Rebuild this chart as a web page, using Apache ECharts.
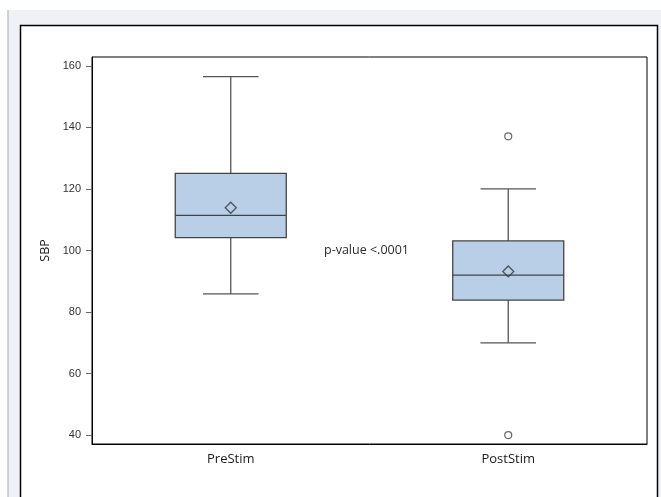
<!DOCTYPE html>
<html>
<head>
<meta charset="utf-8">
<script src="https://cdn.jsdelivr.net/npm/echarts@6/dist/echarts.min.js"></script>
<style>
html,body{margin:0;padding:0;background:#fff;}
#c{width:661px;height:497px;}
</style>
</head>
<body>
<div id="c"></div>
<script>
const categories = ['PreStim', 'PostStim'];
// [min whisker, Q1, median, Q3, max whisker]
const boxStats = [
  [85.9, 104.2, 111.4, 125.1, 156.5],
  [70.0, 83.9, 92.0, 103.1, 120.0]
];
const means = [113.9, 93.2];
const outliers = [[1, 137.1], [1, 40.0]];
const yTicks = [40, 60, 80, 100, 120, 140, 160];
const annotation = 'p-value <.0001';

const chart = echarts.init(document.getElementById('c'));

const boxData = boxStats.map((s, i) => [i].concat(s));

chart.setOption({
  animation: false,
  backgroundColor: '#ffffff',
  graphic: [
    { type: 'rect', z: -10, shape: { x: 8, y: 10, width: 660, height: 500 },
      style: { fill: '#f0f1f6' } },
    { type: 'line', z: -10, shape: { x1: 8, y1: 10, x2: 8, y2: 497 },
      style: { stroke: '#aaaaaa', lineWidth: 1 } },
    { type: 'rect', z: -9, shape: { x: 20.5, y: 25.5, width: 637, height: 480 },
      style: { fill: '#ffffff', stroke: '#000000', lineWidth: 1.5 } },
    { type: 'text', z: 10, left: 324, top: 244,
      style: { text: annotation, font: '12.5px "Open Sans", sans-serif', fill: '#2a2a2a' } }
  ],
  grid: { left: 92, right: 14, top: 57, bottom: 53, show: true, borderColor: '#000', borderWidth: 1, backgroundColor: 'transparent' },
  xAxis: {
    type: 'category',
    data: categories,
    boundaryGap: true,
    axisLine: { lineStyle: { color: '#000', width: 1 } },
    axisTick: { alignWithLabel: true, length: 6, lineStyle: { color: '#666' } },
    axisLabel: { margin: 9, color: '#1a1a1a', fontSize: 13, fontFamily: '"Open Sans", sans-serif' },
    splitLine: { show: false }
  },
  yAxis: {
    type: 'value',
    min: 37.1,
    max: 162.9,
    name: 'SBP',
    nameLocation: 'middle',
    nameGap: 37,
    nameTextStyle: { color: '#1a1a1a', fontSize: 12.5, fontFamily: '"Open Sans", sans-serif' },
    axisLine: { show: true, lineStyle: { color: '#000' } },
    axisTick: { show: true, customValues: yTicks, length: 6, lineStyle: { color: '#666' } },
    axisLabel: { customValues: yTicks, margin: 11, color: '#333', fontSize: 11, fontFamily: '"Liberation Sans", Arial, sans-serif' },
    splitLine: { show: false }
  },
  series: [
    {
      type: 'custom',
      data: boxData,
      encode: { x: 0, y: [1, 2, 3, 4, 5] },
      renderItem: function (params, api) {
        const x = api.value(0);
        const pMin = api.coord([x, api.value(1)]);
        const pQ1 = api.coord([x, api.value(2)]);
        const pMed = api.coord([x, api.value(3)]);
        const pQ3 = api.coord([x, api.value(4)]);
        const pMax = api.coord([x, api.value(5)]);
        const bw = api.size([1, 0])[0];
        const hw = bw * 0.2;
        const cw = hw / 2;
        const cx = pMed[0];
        const line = { stroke: '#555555', lineWidth: 1.3 };
        return {
          type: 'group',
          children: [
            { type: 'line', shape: { x1: cx, y1: pQ3[1], x2: cx, y2: pMax[1] }, style: line },
            { type: 'line', shape: { x1: cx, y1: pQ1[1], x2: cx, y2: pMin[1] }, style: line },
            { type: 'line', shape: { x1: cx - cw, y1: pMax[1], x2: cx + cw, y2: pMax[1] }, style: line },
            { type: 'line', shape: { x1: cx - cw, y1: pMin[1], x2: cx + cw, y2: pMin[1] }, style: line },
            { type: 'rect', shape: { x: cx - hw, y: pQ3[1], width: hw * 2, height: pQ1[1] - pQ3[1] },
              style: { fill: '#b9cfe8', stroke: '#444444', lineWidth: 1.3 } },
            { type: 'line', shape: { x1: cx - hw, y1: pMed[1], x2: cx + hw, y2: pMed[1] }, style: { stroke: '#444444', lineWidth: 1.3 } }
          ]
        };
      }
    },
    {
      type: 'scatter',
      data: means.map((m, i) => [i, m]),
      symbol: 'diamond',
      symbolSize: [11, 11],
      itemStyle: { color: 'rgba(0,0,0,0)', borderColor: '#333333', borderWidth: 1.3 },
      z: 5
    },
    {
      type: 'scatter',
      data: outliers,
      symbol: 'circle',
      symbolSize: 7,
      itemStyle: { color: '#ffffff', borderColor: '#444444', borderWidth: 1.2 },
      z: 5
    }
  ]
});
</script>
</body>
</html>
